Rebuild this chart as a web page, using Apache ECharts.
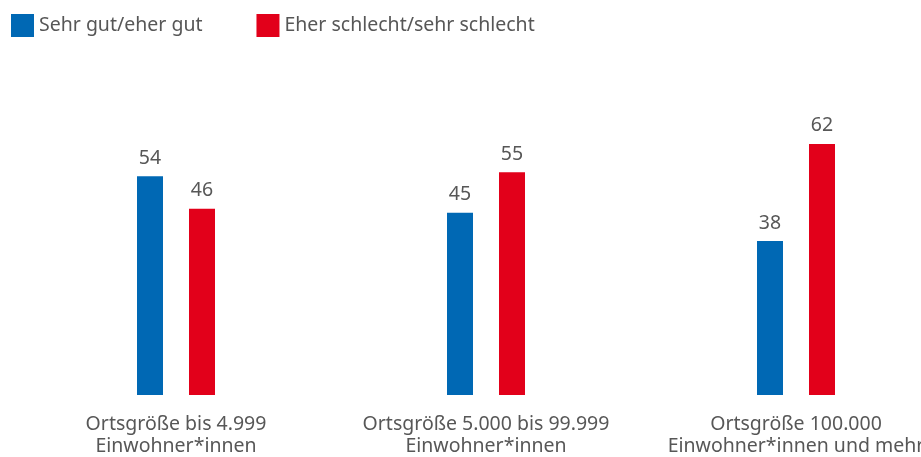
<!DOCTYPE html>
<html>
<head>
<meta charset="utf-8">
<script src="https://cdn.jsdelivr.net/npm/echarts@6/dist/echarts.min.js"></script>
<style>
  html, body { margin: 0; padding: 0; background: #fff; overflow: hidden; }
  #chart { width: 951px; height: 457px; }
</style>
</head>
<body>
<div id="chart"></div>
<script>
const categories = [
  'Ortsgröße bis 4.999\nEinwohner*innen',
  'Ortsgröße 5.000 bis 99.999\nEinwohner*innen',
  'Ortsgröße 100.000\nEinwohner*innen und mehr'
];
const goodValues = [54, 45, 38];
const badValues = [46, 55, 62];

const textColor = '#575757';
const font = 'Noto Sans';

// chart is slightly wider than the window, the last label gets cut like in the original
const chart = echarts.init(document.getElementById('chart'));

const option = {
  animation: false,
  textStyle: { fontFamily: font },
  legend: {
    left: 11,
    top: 14,
    padding: 0,
    itemWidth: 23,
    itemHeight: 23,
    itemGap: 54,
    icon: 'rect',
    textStyle: { color: textColor, fontSize: 19.5, fontFamily: font },
    data: ['Sehr gut/eher gut', 'Eher schlecht/sehr schlecht']
  },
  grid: {
    left: 21,
    right: 0,
    top: 71,
    bottom: 60
  },
  xAxis: {
    type: 'category',
    data: categories,
    axisLine: { show: false },
    axisTick: { show: false },
    axisLabel: {
      color: textColor,
      fontSize: 19.5,
      lineHeight: 22,
      margin: 18,
      interval: 0
    }
  },
  yAxis: {
    type: 'value',
    min: 0,
    max: 80,
    show: false
  },
  series: [
    {
      name: 'Sehr gut/eher gut',
      type: 'bar',
      data: goodValues,
      barWidth: 26,
      barGap: '100%',
      itemStyle: { color: '#0068b4' },
      label: { show: true, position: 'top', distance: 8, color: textColor, fontSize: 19.5 }
    },
    {
      name: 'Eher schlecht/sehr schlecht',
      type: 'bar',
      data: badValues,
      barWidth: 26,
      itemStyle: { color: '#e2001a' },
      label: { show: true, position: 'top', distance: 8, color: textColor, fontSize: 19.5 }
    }
  ]
};

chart.setOption(option);
</script>
</body>
</html>
